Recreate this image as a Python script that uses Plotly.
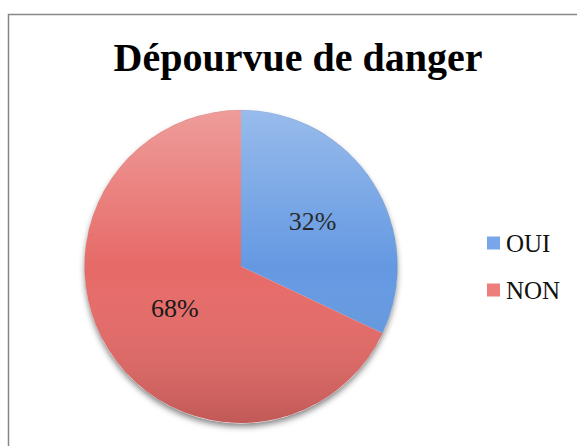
import base64
import plotly.graph_objects as go

labels = ["OUI", "NON"]
values = [32, 68]
colors = ["#6499e2", "#e66a67"]

W, H = 577, 446
# pie bounding box in pixels
PX0, PX1, PY0, PY1 = 84, 398, 110, 423

fig = go.Figure(go.Pie(
    labels=labels,
    values=values,
    sort=False,
    direction="clockwise",
    rotation=0,
    marker=dict(colors=colors, line=dict(width=0)),
    textinfo="percent",
    texttemplate="%{percent:.0%}",
    textposition="inside",
    insidetextorientation="horizontal",
    textfont=dict(family="Liberation Serif", size=26, color="#111111"),
    domain=dict(x=[PX0 / W, PX1 / W], y=[1 - PY1 / H, 1 - PY0 / H]),
    showlegend=False,
    hoverinfo="label+percent",
))

# gradient sheen over the pie, and soft shadow around its lower edge
sheen = ('<svg xmlns="http://www.w3.org/2000/svg" width="314" height="314" viewBox="0 0 314 314">'
         '<defs><linearGradient id="g" x1="0" y1="0" x2="0" y2="1">'
         '<stop offset="0" stop-color="#ffffff" stop-opacity="0.34"/>'
         '<stop offset="0.5" stop-color="#ffffff" stop-opacity="0"/>'
         '<stop offset="1" stop-color="#000000" stop-opacity="0.16"/>'
         '</linearGradient></defs>'
         '<circle cx="157" cy="157" r="157" fill="url(#g)"/></svg>')
shadow = ('<svg xmlns="http://www.w3.org/2000/svg" width="340" height="340" viewBox="0 0 340 340">'
          '<defs><filter id="b" x="-20%" y="-20%" width="140%" height="140%">'
          '<feGaussianBlur stdDeviation="3"/></filter>'
          '<mask id="m"><rect width="340" height="340" fill="white"/>'
          '<circle cx="170" cy="170" r="156.5" fill="black"/></mask></defs>'
          '<g mask="url(#m)"><circle cx="170" cy="173.5" r="156" fill="#000000" '
          'fill-opacity="0.5" filter="url(#b)"/></g></svg>')

def uri(svg):
    return "data:image/svg+xml;base64," + base64.b64encode(svg.encode()).decode()

fig.add_layout_image(source=uri(sheen), xref="paper", yref="paper",
                     x=PX0 / W, y=1 - PY0 / H, sizex=(PX1 - PX0) / W, sizey=(PY1 - PY0) / H,
                     xanchor="left", yanchor="top", sizing="stretch", layer="above")
fig.add_layout_image(source=uri(shadow), xref="paper", yref="paper",
                     x=(PX0 - 13) / W, y=1 - (PY0 - 13) / H,
                     sizex=340 / W, sizey=340 / H,
                     xanchor="left", yanchor="top", sizing="stretch", layer="above")

# chart border (cropped frame)
fig.add_shape(type="rect", xref="paper", yref="paper",
              x0=8.5 / W, x1=1.05, y0=-0.05, y1=1 - 14.5 / H,
              line=dict(color="#878787", width=1.5), fillcolor="rgba(0,0,0,0)")

# legend (manual)
ly = [243, 290]
leg_colors = ["#77a6ea", "#ec7e7b"]
for lab, col, y in zip(labels, leg_colors, ly):
    fig.add_shape(type="rect", xref="paper", yref="paper",
                  x0=487 / W, x1=500 / W, y0=1 - (y + 6.5) / H, y1=1 - (y - 6.5) / H,
                  line=dict(width=0), fillcolor=col)
    fig.add_annotation(x=504 / W, y=1 - y / H, xref="paper", yref="paper",
                       text=lab, showarrow=False, xanchor="left", yanchor="middle",
                       font=dict(family="Liberation Serif", size=25, color="#111111"))

fig.update_layout(
    width=W, height=H,
    margin=dict(l=0, r=0, t=0, b=0),
    paper_bgcolor="white",
    plot_bgcolor="rgba(0,0,0,0)",
    title=dict(text="<b>Dépourvue de danger</b>", x=298 / W, xanchor="center",
               y=1 - 57 / H, yanchor="middle",
               font=dict(family="Liberation Serif", size=40, color="#000000")),
)

fig.write_html("out.html", config={"displayModeBar": False},
               post_script="document.body.style.margin='0';")
